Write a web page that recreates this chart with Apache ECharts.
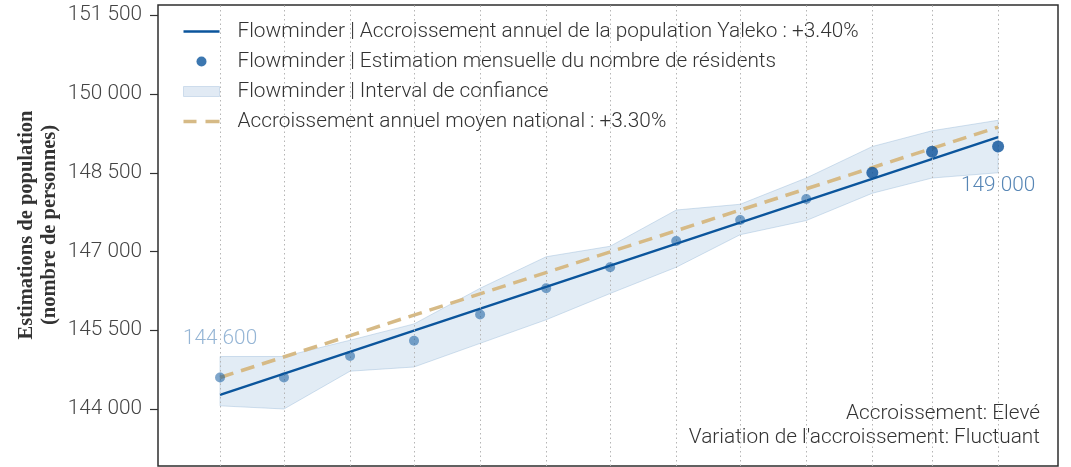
<!DOCTYPE html>
<html>
<head>
<meta charset="utf-8">
<script src="https://cdn.jsdelivr.net/npm/echarts@6/dist/echarts.min.js"></script>
<style>
  html, body { margin: 0; padding: 0; background: #fff; }
  #chart { width: 1071px; height: 467px; }
</style>
</head>
<body>
<div id="chart"></div>
<script>
// Monthly estimates, April to April
const months = ['2022-04-01', '2022-05-01', '2022-06-01', '2022-07-01', '2022-08-01', '2022-09-01',
                '2022-10-01', '2022-11-01', '2022-12-01', '2023-01-01', '2023-02-01', '2023-03-01', '2023-04-01'];
const residents = [144600, 144600, 145010, 145300, 145800, 146300, 146700, 147200, 147600, 148000, 148500, 148900, 149000];
const ciUpper = [145000, 145000, 145310, 145620, 146300, 146900, 147100, 147790, 147900, 148400, 149000, 149300, 149500];
const ciLower = [144060, 144000, 144720, 144800, 145250, 145700, 146200, 146700, 147320, 147590, 148110, 148400, 148500];
// Trend lines, start and end of the year
const trendYaleko = [144270, 149180];
const trendNational = [144600, 149370];
const yTicks = [144000, 145500, 147000, 148500, 150000, 151500];

const NAME_TREND = 'Flowminder | Accroissement annuel de la population Yaleko : +3.40%';
const NAME_POINTS = 'Flowminder | Estimation mensuelle du nombre de résidents';
const NAME_CI = 'Flowminder | Interval de confiance';
const NAME_NATIONAL = 'Accroissement annuel moyen national : +3.30%';

const DAY = 86400000;
const t0 = new Date(months[0]).getTime();
const t1 = new Date(months[months.length - 1]).getTime();
const fmt = v => String(Math.round(v)).replace(/\B(?=(\d{3})+(?!\d))/g, ' ');

const BLUE = '#0b559c';
const DARK_BLUE = '#0b519a';
const LIGHT_PT = 'rgba(11,85,156,0.66)';
const SAND = '#d6ba86';
const FONT = 'Roboto';
const FS = 20.8;

const chart = echarts.init(document.getElementById('chart'), null, { renderer: 'canvas' });

const pointData = months.map((m, i) => {
  const item = { value: [m, residents[i]] };
  if (i === 0) {
    item.label = { show: true, position: 'top', distance: 23, color: '#7aa3cb' };
  } else if (i === months.length - 1) {
    item.label = { show: true, position: 'bottom', distance: 23, color: '#2d68a3' };
  }
  return item;
});

chart.setOption({
  animation: false,
  grid: {
    left: 158, top: 5, right: 13, bottom: 1,
    show: true, borderColor: '#2e2e2e', borderWidth: 1.5, backgroundColor: 'transparent'
  },
  xAxis: {
    type: 'time',
    min: t0 - 29.1 * DAY,
    max: t1 + 28.1 * DAY,
    axisLine: { show: false },
    axisTick: { show: false },
    axisLabel: { show: false },
    splitLine: { show: false }
  },
  yAxis: {
    type: 'value',
    min: 142914,
    max: 151696,
    axisLine: { show: false },
    axisTick: { show: true, length: 8, lineStyle: { color: '#333', width: 1.2 }, customValues: yTicks },
    axisLabel: {
      show: true, margin: 16, customValues: yTicks, formatter: fmt,
      fontFamily: FONT, fontWeight: 300, fontSize: FS, color: '#444'
    },
    splitLine: { show: false }
  },
  legend: {
    left: 183, top: 21, orient: 'vertical', padding: 0,
    itemWidth: 36, itemHeight: 10, itemGap: 9,
    symbolKeepAspect: true,
    selectedMode: false,
    textStyle: { fontFamily: FONT, fontWeight: 300, fontSize: FS, color: '#333', lineHeight: 20, padding: [0, 0, 0, 13] },
    data: [
      { name: NAME_TREND, icon: 'path://M0,0H36V2.5H0Z', itemStyle: { color: BLUE, borderWidth: 0 } },
      { name: NAME_POINTS, icon: 'circle', itemStyle: { color: BLUE, borderWidth: 0 } },
      { name: NAME_CI, icon: 'rect', itemStyle: { color: '#e1eaf4', borderColor: '#cddcec', borderWidth: 1 } },
      { name: NAME_NATIONAL, icon: 'path://M0,0H13V3.5H0Z M22,0H36V3.5H22Z', itemStyle: { color: SAND, borderWidth: 0 } }
    ]
  },
  graphic: [
    {
      type: 'text', x: 38, y: 225, rotation: Math.PI / 2, silent: true,
      style: {
        text: 'Estimations de population\n(nombre de personnes)',
        font: 'bold 20.5px "Liberation Serif"', fill: '#333',
        textAlign: 'center', textVerticalAlign: 'middle', lineHeight: 23
      }
    },
    {
      type: 'text', right: 31, top: 402, silent: true,
      style: {
        text: 'Accroissement: Elevé\nVariation de l\'accroissement: Fluctuant',
        font: '300 ' + FS + 'px Roboto', fill: '#333', textAlign: 'right', lineHeight: 24
      }
    }
  ],
  series: [
    {
      // confidence band drawn as one polygon through the axis scales
      name: NAME_CI,
      type: 'custom',
      silent: true,
      z: 1,
      itemStyle: { color: '#e1eaf4' },
      data: [[months[0], ciUpper[0]]],
      renderItem: (params, api) => {
        const pts = [];
        for (let i = 0; i < months.length; i++) pts.push(api.coord([new Date(months[i]).getTime(), ciUpper[i]]));
        for (let i = months.length - 1; i >= 0; i--) pts.push(api.coord([new Date(months[i]).getTime(), ciLower[i]]));
        return {
          type: 'polygon',
          shape: { points: pts },
          style: { fill: 'rgba(155,190,222,0.29)', stroke: 'rgba(140,175,210,0.38)', lineWidth: 1 }
        };
      }
    },
    {
      // dotted month guides
      name: 'guides',
      type: 'line',
      data: [],
      silent: true,
      z: 2,
      markLine: {
        silent: true, symbol: 'none', animation: false,
        label: { show: false },
        lineStyle: { color: '#b5b5b5', width: 1, type: [1.5, 3] },
        data: months.map(m => ({ xAxis: m }))
      }
    },
    {
      name: NAME_NATIONAL,
      type: 'line',
      z: 3,
      showSymbol: false,
      data: [[months[0], trendNational[0]], [months[months.length - 1], trendNational[1]]],
      lineStyle: { color: SAND, width: 3.5, type: [14, 8] },
      itemStyle: { color: SAND }
    },
    {
      name: NAME_TREND,
      type: 'line',
      z: 4,
      showSymbol: false,
      data: [[months[0], trendYaleko[0]], [months[months.length - 1], trendYaleko[1]]],
      lineStyle: { color: BLUE, width: 2.5 },
      itemStyle: { color: BLUE }
    },
    {
      name: NAME_POINTS,
      type: 'scatter',
      z: 5,
      symbolSize: (v, p) => (p.dataIndex >= 10 ? 12 : 10),
      itemStyle: { color: p => (p.dataIndex >= 10 ? DARK_BLUE : LIGHT_PT) },
      label: {
        show: false, formatter: p => fmt(p.value[1]),
        fontFamily: FONT, fontWeight: 300, fontSize: FS
      },
      data: pointData
    }
  ]
});
</script>
</body>
</html>
